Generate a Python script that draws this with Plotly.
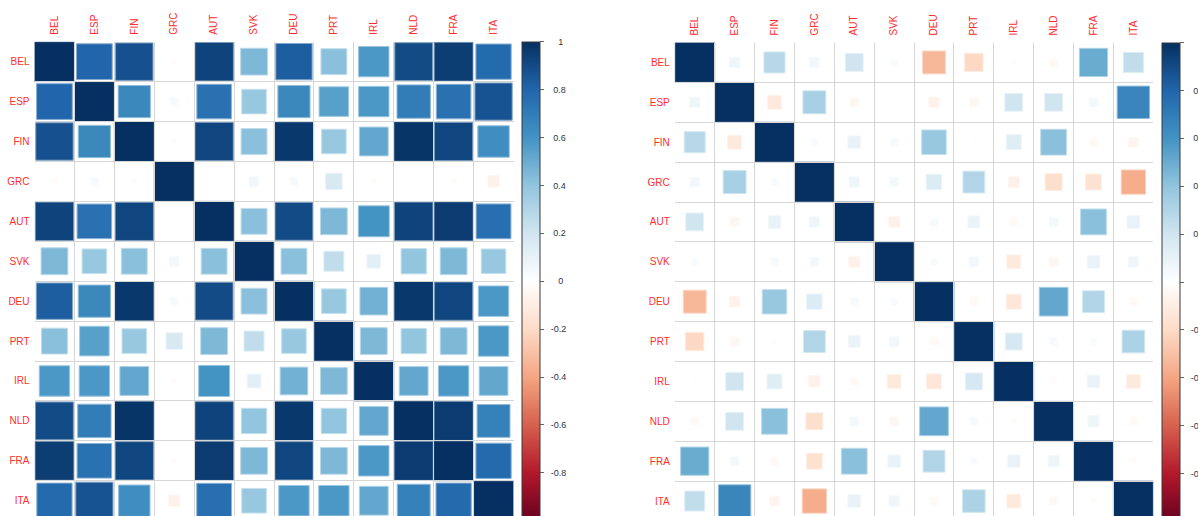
import numpy as np
import plotly.graph_objects as go
from plotly.colors import sample_colorscale, unlabel_rgb

countries = ["BEL", "ESP", "FIN", "GRC", "AUT", "SVK", "DEU", "PRT", "IRL", "NLD", "FRA", "ITA"]

# correlation of yield levels (rows/cols follow `countries`)
corr_levels = [
    [1.00, 0.80, 0.88, -0.02, 0.93, 0.45, 0.83, 0.42, 0.58, 0.90, 0.95, 0.78],
    [0.80, 1.00, 0.65, 0.04, 0.75, 0.38, 0.65, 0.55, 0.58, 0.70, 0.75, 0.87],
    [0.88, 0.65, 1.00, 0.02, 0.92, 0.42, 0.97, 0.38, 0.52, 0.98, 0.92, 0.62],
    [-0.02, 0.04, 0.02, 1.00, 0.00, 0.06, 0.04, 0.17, -0.02, 0.00, -0.02, -0.08],
    [0.93, 0.75, 0.92, 0.00, 1.00, 0.42, 0.90, 0.45, 0.60, 0.93, 0.96, 0.76],
    [0.45, 0.38, 0.42, 0.06, 0.42, 1.00, 0.42, 0.25, 0.12, 0.40, 0.45, 0.38],
    [0.83, 0.65, 0.97, 0.04, 0.90, 0.42, 1.00, 0.38, 0.48, 0.97, 0.92, 0.58],
    [0.42, 0.55, 0.38, 0.17, 0.45, 0.25, 0.38, 1.00, 0.45, 0.40, 0.45, 0.58],
    [0.58, 0.58, 0.52, -0.02, 0.60, 0.12, 0.48, 0.45, 1.00, 0.52, 0.58, 0.52],
    [0.90, 0.70, 0.98, 0.00, 0.93, 0.40, 0.97, 0.40, 0.52, 1.00, 0.96, 0.68],
    [0.95, 0.75, 0.92, -0.02, 0.96, 0.45, 0.92, 0.45, 0.58, 0.96, 1.00, 0.78],
    [0.78, 0.87, 0.62, -0.08, 0.76, 0.38, 0.58, 0.58, 0.52, 0.68, 0.78, 1.00],
]

# correlation of yield changes
corr_changes = [
    [1.00, 0.07, 0.28, 0.06, 0.20, 0.03, -0.33, -0.21, -0.01, -0.04, 0.50, 0.25],
    [0.07, 1.00, -0.12, 0.33, -0.05, 0.00, -0.07, -0.05, 0.20, 0.20, 0.05, 0.66],
    [0.28, -0.12, 1.00, 0.03, 0.10, 0.04, 0.38, -0.01, 0.14, 0.42, -0.04, -0.06],
    [0.06, 0.33, 0.03, 1.00, 0.07, 0.05, 0.15, 0.30, -0.08, -0.18, -0.16, -0.37],
    [0.20, -0.05, 0.10, 0.07, 1.00, -0.08, 0.04, 0.09, -0.04, 0.05, 0.42, 0.10],
    [0.03, 0.00, 0.04, 0.05, -0.08, 1.00, 0.03, 0.06, -0.12, -0.05, 0.10, 0.07],
    [-0.33, -0.07, 0.38, 0.15, 0.04, 0.03, 1.00, -0.04, -0.14, 0.52, 0.30, -0.04],
    [-0.21, -0.05, -0.01, 0.30, 0.09, 0.06, -0.04, 1.00, 0.18, 0.04, 0.03, 0.32],
    [-0.01, 0.20, 0.14, -0.08, -0.04, -0.12, -0.14, 0.18, 1.00, -0.02, 0.10, -0.12],
    [-0.04, 0.20, 0.42, -0.18, 0.05, -0.05, 0.52, 0.04, -0.02, 1.00, 0.08, -0.04],
    [0.50, 0.05, -0.04, -0.16, 0.42, 0.10, 0.30, 0.03, 0.10, 0.08, 1.00, -0.02],
    [0.25, 0.66, -0.06, -0.37, 0.10, 0.07, -0.04, 0.32, -0.12, -0.04, -0.02, 1.00],
]

colorbar_ticks = [1, 0.8, 0.6, 0.4, 0.2, 0, -0.2, -0.4, -0.6, -0.8]

# RdBu diverging palette, -1 (dark red) .. 1 (dark blue)
rdbu = ["#67001F", "#B2182B", "#D6604D", "#F4A582", "#FDDBC7", "#FFFFFF",
        "#D1E5F0", "#92C5DE", "#4393C3", "#2166AC", "#053061"]
colorscale = [[i / (len(rdbu) - 1), c] for i, c in enumerate(rdbu)]

W, H = 1198, 516
LABEL_RED = "#FF2E2E"
GRID = "#D6D6D6"


def value_color(v):
    return sample_colorscale(colorscale, [(v + 1) / 2])[0]


def lighter(rgb, amount=0.45):
    r, g, b = unlabel_rgb(rgb)
    mix = lambda c: int(round(c + (255 - c) * amount))
    return f"rgb({mix(r)},{mix(g)},{mix(b)})"


def pad_label(v):
    text = f"{v:g}"
    n = {1: 5, 2: 5, 3: 3, 4: 2}[len(text)]
    return "\u00a0" * n + text


fig = go.Figure()

panels = [
    # matrix, x-axis id, y-axis id, grid left/right (px), grid top (px), colorbar left (px)
    (corr_levels, "x", "y", 34.5, 513.5, 41.7, 522.3),
    (corr_changes, "x2", "y2", 674.8, 1153.3, 42.5, 1162.3),
]

n = len(countries)
positions = list(range(1, n + 1))
cell_lines = [i + 0.5 for i in range(0, n + 1)]

for k, (mat, xa, ya, gl, gr, gt, cbx) in enumerate(panels):
    suffix = "" if k == 0 else str(k + 1)
    cell_px = (gr - gl) / n
    y_bottom = 0.5 + (H - gt) / cell_px

    fig.update_layout({
        f"xaxis{suffix}": dict(
            domain=[gl / W, gr / W], range=[0.5, n + 0.5], anchor=ya,
            side="top", tickmode="array", tickvals=positions, ticktext=countries,
            tickangle=-90, showgrid=False, zeroline=False, showline=False,
            ticks="", ticklabelstandoff=6,
            tickfont=dict(family="Liberation Sans, Arial", size=10, color=LABEL_RED),
            minor=dict(tickmode="array", tickvals=cell_lines, showgrid=True,
                       gridcolor=GRID, gridwidth=1, ticks=""),
            fixedrange=True,
        ),
        f"yaxis{suffix}": dict(
            domain=[0, 1 - gt / H], range=[y_bottom, 0.5], anchor=xa,
            tickmode="array", tickvals=positions, ticktext=countries,
            showgrid=False, zeroline=False, showline=False, ticks="",
            ticklabelstandoff=4,
            tickfont=dict(family="Liberation Sans, Arial", size=10, color=LABEL_RED),
            minor=dict(tickmode="array", tickvals=cell_lines, showgrid=True,
                       gridcolor=GRID, gridwidth=1, ticks=""),
            fixedrange=True,
        ),
    })

    # one square per cell, side proportional to sqrt(|r|)
    for i in range(n):
        for j in range(n):
            v = mat[i][j]
            half = np.sqrt(abs(v)) / 2
            if half <= 0:
                continue
            col = value_color(v)
            fig.add_shape(
                type="rect", xref=xa, yref=ya, layer="below",
                x0=j + 1 - half, x1=j + 1 + half,
                y0=i + 1 - half, y1=i + 1 + half,
                fillcolor=col, line=dict(color=lighter(col), width=1),
            )

    # colour legend for the panel
    fig.add_trace(go.Scatter(
        x=[1, 1], y=[1, 1], xaxis=xa, yaxis=ya, mode="markers",
        marker=dict(
            color=[-1, 1], cmin=-1, cmax=1, colorscale=colorscale, opacity=0,
            showscale=True,
            colorbar=dict(
                x=cbx / W, xanchor="left", xpad=0, ypad=0,
                y=1 - gt / H, yanchor="top",
                lenmode="pixels", len=12 * cell_px, thickness=18,
                outlinewidth=1, outlinecolor="#3a3a3a",
                tickmode="array", tickvals=colorbar_ticks,
                ticktext=[pad_label(v) for v in colorbar_ticks],
                ticks="outside", ticklen=4, tickcolor="#666666", tickwidth=1,
                tickfont=dict(family="Liberation Sans, Arial", size=9, color="#333340"),
            ),
        ),
        hoverinfo="skip", showlegend=False,
    ))

fig.update_layout(
    width=W, height=H,
    margin=dict(l=0, r=0, t=0, b=0, autoexpand=False),
    paper_bgcolor="white", plot_bgcolor="white",
    showlegend=False,
)

fig.write_html("out.html")
